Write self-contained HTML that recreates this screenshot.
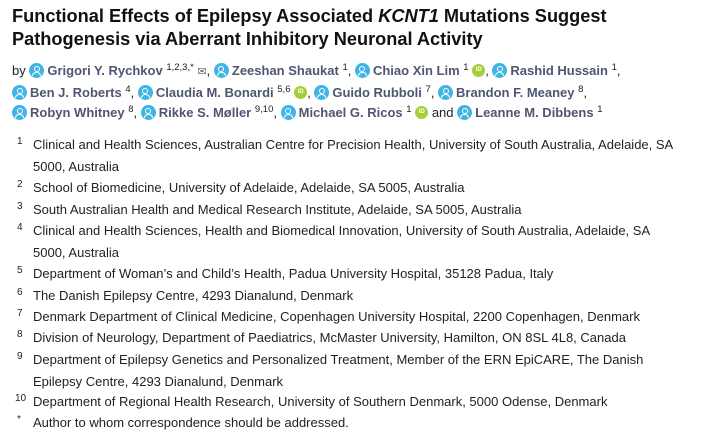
<!DOCTYPE html>
<html><head><meta charset="utf-8"><style>
body{margin:0;background:#fff;width:712px;height:443px;overflow:hidden;font-family:"Liberation Sans",Arial,sans-serif;color:#222}
h1{position:absolute;left:12px;top:5px;margin:0;font-size:18.2px;line-height:23px;font-weight:bold;color:#111;width:690px}
.auth{position:absolute;left:12px;top:61px;font-size:13px;line-height:20.5px;color:#222;width:690px}
.n{font-weight:bold;color:#4f5671}
.ic{display:inline-block;width:15px;height:15px;border-radius:50%;background:#3fb4e5;vertical-align:-3px;margin-right:3px;position:relative}
.ic:before{content:"";position:absolute;left:4.5px;top:3px;width:6px;height:6px;border-radius:50%;border:1.3px solid #fff;box-sizing:border-box}
.ic:after{content:"";position:absolute;left:3px;top:9px;width:9px;height:4px;border-radius:5px 5px 0 0;border:1.3px solid #fff;border-bottom:none;box-sizing:border-box}
.or{display:inline-block;width:13px;height:13px;border-radius:50%;background:#a6ce39;vertical-align:-2px;position:relative}
.or:after{content:"iD";position:absolute;left:0;top:0;width:13px;text-align:center;color:#fff;font-size:6px;line-height:13px;font-weight:bold}
sup{font-size:9.5px;vertical-align:5px;line-height:0}
.aff{position:absolute;left:0;font-size:13px;line-height:21.5px;color:#222}
.aff .k{position:absolute;left:17px;top:-3px;font-size:10px}
.aff .t{position:absolute;left:33px;width:645px}
</style></head><body>
<h1>Functional Effects of Epilepsy Associated <i>KCNT1</i> Mutations Suggest<br>Pathogenesis via Aberrant Inhibitory Neuronal Activity</h1>
<div class="auth">by <span class="ic"></span><span class="n">Grigori Y. Rychkov</span> <sup>1,2,3,*</sup> <span style="font-size:11px;color:#666">✉</span>, <span class="ic"></span><span class="n">Zeeshan Shaukat</span> <sup>1</sup>, <span class="ic"></span><span class="n">Chiao Xin Lim</span> <sup>1</sup> <span class="or"></span>, <span class="ic"></span><span class="n">Rashid Hussain</span> <sup>1</sup>,<br>
<span class="ic"></span><span class="n">Ben J. Roberts</span> <sup>4</sup>, <span class="ic"></span><span class="n">Claudia M. Bonardi</span> <sup>5,6</sup> <span class="or"></span>, <span class="ic"></span><span class="n">Guido Rubboli</span> <sup>7</sup>, <span class="ic"></span><span class="n">Brandon F. Meaney</span> <sup>8</sup>,<br>
<span class="ic"></span><span class="n">Robyn Whitney</span> <sup>8</sup>, <span class="ic"></span><span class="n">Rikke S. Møller</span> <sup>9,10</sup>, <span class="ic"></span><span class="n">Michael G. Ricos</span> <sup>1</sup> <span class="or"></span> and <span class="ic"></span><span class="n">Leanne M. Dibbens</span> <sup>1</sup></div>

<div class="aff" style="top:134px"><span class="k">1</span><span class="t">Clinical and Health Sciences, Australian Centre for Precision Health, University of South Australia, Adelaide, SA<br>5000, Australia</span></div>
<div class="aff" style="top:177px"><span class="k">2</span><span class="t">School of Biomedicine, University of Adelaide, Adelaide, SA 5005, Australia</span></div>
<div class="aff" style="top:199px"><span class="k">3</span><span class="t">South Australian Health and Medical Research Institute, Adelaide, SA 5005, Australia</span></div>
<div class="aff" style="top:220px"><span class="k">4</span><span class="t">Clinical and Health Sciences, Health and Biomedical Innovation, University of South Australia, Adelaide, SA<br>5000, Australia</span></div>
<div class="aff" style="top:263px"><span class="k">5</span><span class="t">Department of Woman’s and Child’s Health, Padua University Hospital, 35128 Padua, Italy</span></div>
<div class="aff" style="top:285px"><span class="k">6</span><span class="t">The Danish Epilepsy Centre, 4293 Dianalund, Denmark</span></div>
<div class="aff" style="top:306px"><span class="k">7</span><span class="t">Denmark Department of Clinical Medicine, Copenhagen University Hospital, 2200 Copenhagen, Denmark</span></div>
<div class="aff" style="top:327px"><span class="k">8</span><span class="t">Division of Neurology, Department of Paediatrics, McMaster University, Hamilton, ON 8SL 4L8, Canada</span></div>
<div class="aff" style="top:349px"><span class="k">9</span><span class="t">Department of Epilepsy Genetics and Personalized Treatment, Member of the ERN EpiCARE, The Danish<br>Epilepsy Centre, 4293 Dianalund, Denmark</span></div>
<div class="aff" style="top:391px"><span class="k" style="left:15px">10</span><span class="t">Department of Regional Health Research, University of Southern Denmark, 5000 Odense, Denmark</span></div>
<div class="aff" style="top:412px"><span class="k">*</span><span class="t">Author to whom correspondence should be addressed.</span></div>
</body></html>
